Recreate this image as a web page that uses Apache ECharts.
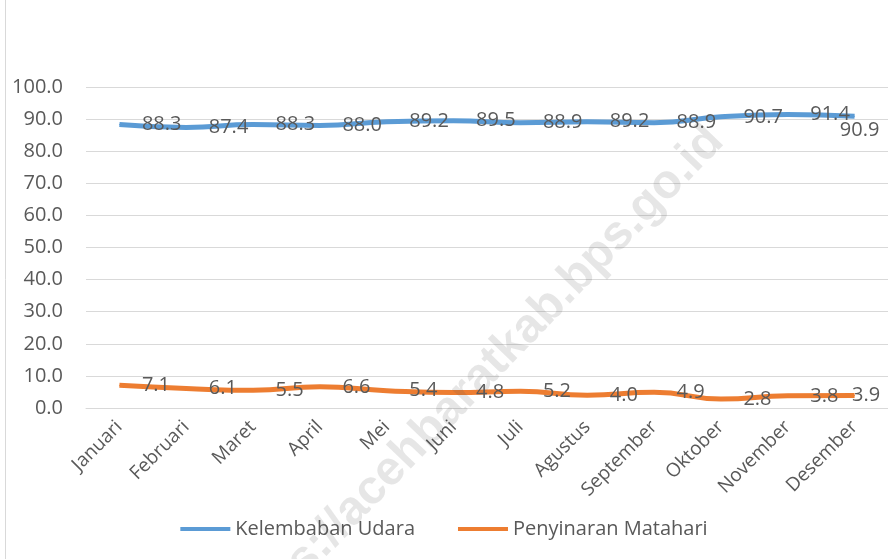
<!DOCTYPE html>
<html>
<head>
<meta charset="utf-8">
<script src="https://cdn.jsdelivr.net/npm/echarts@6/dist/echarts.min.js"></script>
<style>
  html, body { margin: 0; padding: 0; background: #fff; }
  #chart { width: 888px; height: 559px; }
</style>
</head>
<body>
<div id="chart"></div>
<script>
let months = ['Januari', 'Februari', 'Maret', 'April', 'Mei', 'Juni',
              'Juli', 'Agustus', 'September', 'Oktober', 'November', 'Desember'];
let kelembaban = [88.3, 87.4, 88.3, 88.0, 89.2, 89.5, 88.9, 89.2, 88.9, 90.7, 91.4, 90.9];
let penyinaran = [7.1, 6.1, 5.5, 6.6, 5.4, 4.8, 5.2, 4.0, 4.9, 2.8, 3.8, 3.9];
let seriesNames = ['Kelembaban Udara', 'Penyinaran Matahari'];

let textColor = '#595959',
    font = 'Open Sans';

// last label gets pushed around by the plot edge
function withLastLabel(arr, lbl) {
  return arr.map(function(v, i) {
    if(i === arr.length - 1) return {value: v, label: lbl};
    return v;
  });
}

let chart = echarts.init(document.getElementById('chart'));

let option = {
  animation: false,
  textStyle: {fontFamily: font},
  grid: {left: 86, top: 87, width: 805, height: 321},
  legend: {
    top: 514,
    left: 'center',
    icon: 'rect',
    itemWidth: 50,
    itemHeight: 4,
    itemGap: 43,
    textStyle: {fontSize: 20, color: textColor, fontFamily: font},
    data: seriesNames
  },
  xAxis: {
    type: 'category',
    data: months,
    axisLine: {lineStyle: {color: '#d9d9d9', width: 1}},
    axisTick: {show: false},
    axisLabel: {
      interval: 0,
      rotate: 45,
      margin: 16,
      fontSize: 19,
      color: textColor,
      fontFamily: font
    }
  },
  yAxis: {
    type: 'value',
    min: 0,
    max: 100,
    interval: 10,
    axisLine: {show: false},
    axisTick: {show: false},
    splitLine: {lineStyle: {color: '#d9d9d9', width: 1}},
    axisLabel: {
      margin: 23,
      fontSize: 20,
      color: textColor,
      fontFamily: font,
      formatter: function(v) { return v.toFixed(1); }
    }
  },
  series: [{
    name: seriesNames[0],
    type: 'line',
    smooth: true,
    symbol: 'circle',
    symbolSize: 1,
    color: '#5b9bd5',
    lineStyle: {width: 5, color: '#5b9bd5'},
    label: {
      show: true,
      position: 'right',
      distance: 22,
      fontSize: 20,
      color: textColor,
      fontFamily: font,
      formatter: function(p) { return p.value.toFixed(1); }
    },
    data: withLastLabel(kelembaban, {position: 'bottom', distance: 4, offset: [5, 0]})
  }, {
    name: seriesNames[1],
    type: 'line',
    smooth: true,
    symbol: 'circle',
    symbolSize: 1,
    color: '#ed7d31',
    lineStyle: {width: 5, color: '#ed7d31'},
    label: {
      show: true,
      position: 'right',
      distance: 22,
      fontSize: 20,
      color: textColor,
      fontFamily: font,
      formatter: function(p) { return p.value.toFixed(1); }
    },
    data: withLastLabel(penyinaran, {position: 'right', distance: 0, offset: [-3, 0]})
  }],
  graphic: [{
    type: 'line',
    shape: {x1: 5.5, y1: 0, x2: 5.5, y2: 559},
    style: {stroke: '#d9d9d9', lineWidth: 1},
    silent: true
  }, {
    type: 'text',
    x: 474,
    y: 384,
    rotation: 46 * Math.PI / 180,
    z: 100,
    silent: true,
    style: {
      text: 'https://acehbaratkab.bps.go.id',
      fontSize: 48,
      fontWeight: 'bold',
      fontFamily: 'Liberation Sans',
      fill: 'rgba(89,89,89,0.15)',
      align: 'center',
      verticalAlign: 'middle'
    }
  }]
};

chart.setOption(option);
</script>
</body>
</html>
